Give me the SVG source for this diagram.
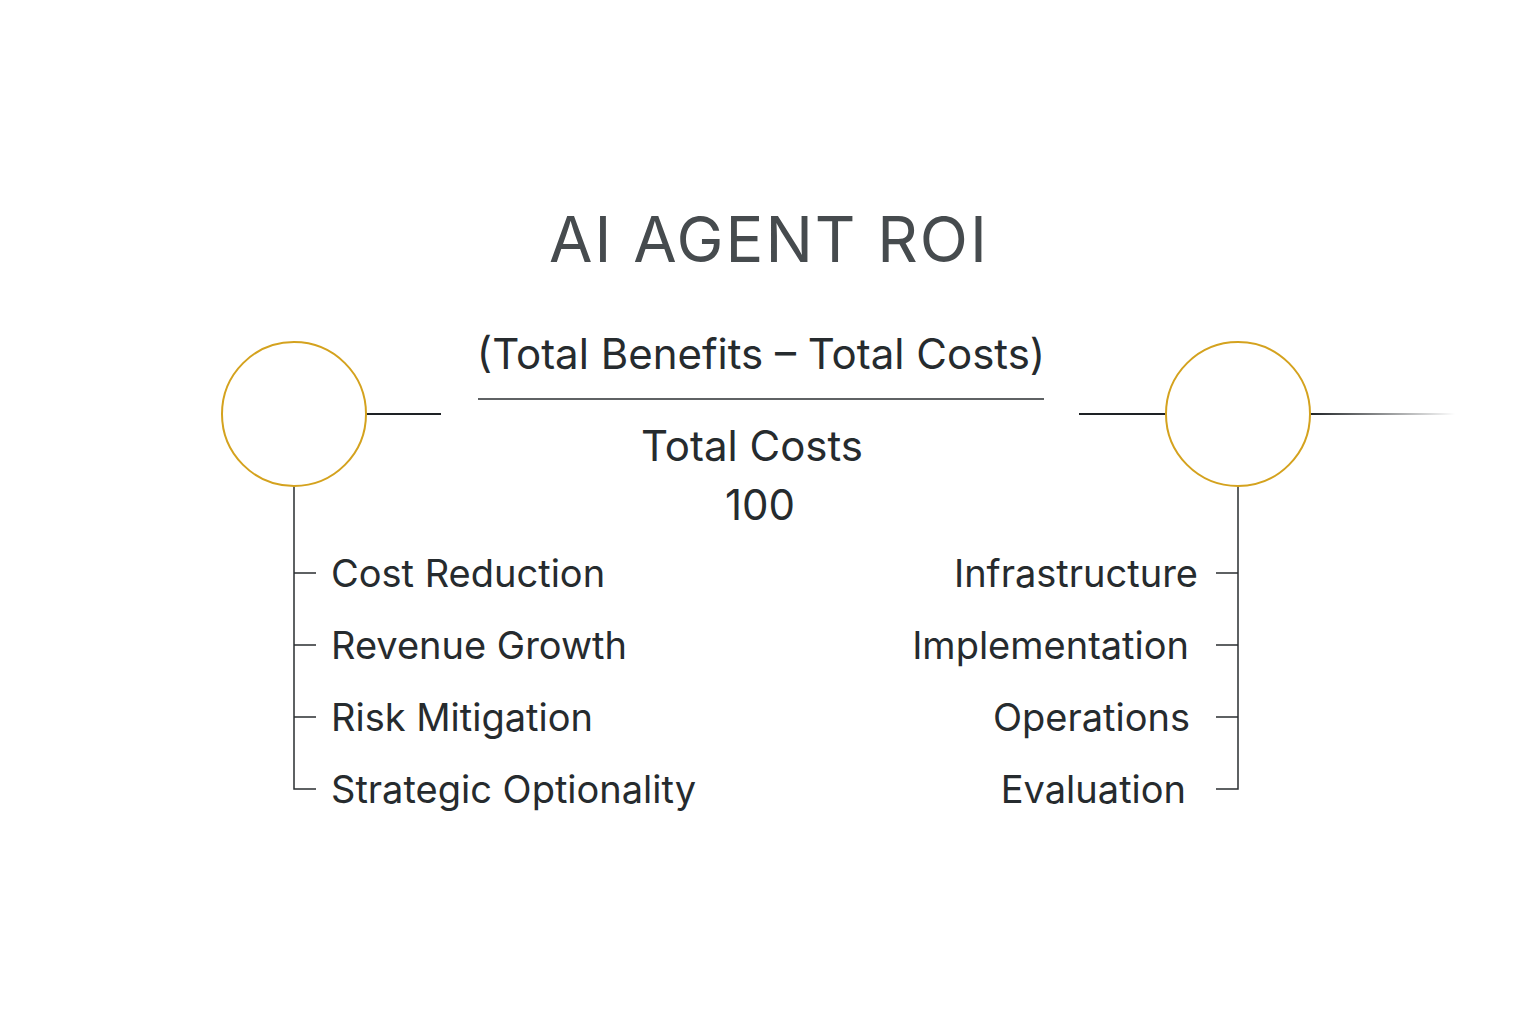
<svg xmlns="http://www.w3.org/2000/svg" width="1536" height="1024" viewBox="0 0 1536 1024">
<style>
.t{font-family:Inter,"Noto Sans","Liberation Sans",sans-serif;fill:#262b2e}
.lbl{font-size:38px}
.ln{stroke:#1e2225;stroke-width:2;fill:none}
.thin{stroke:#2a2e31;stroke-width:1.5;fill:none}
.ring{fill:#fff;stroke:#d4a21e;stroke-width:2}
</style>
<defs>
<linearGradient id="fade" x1="1310" y1="0" x2="1455" y2="0" gradientUnits="userSpaceOnUse">
<stop offset="0" stop-color="#1e2225"/>
<stop offset="1" stop-color="#1e2225" stop-opacity="0"/>
</linearGradient>
</defs>
<rect width="1536" height="1024" fill="#fff"/>
<text id="title" class="t" x="769" y="262" text-anchor="middle" font-size="63" letter-spacing="2" style="fill:#464b4e">AI AGENT ROI</text>
<g id="formula">
<text class="t" x="761" y="369" text-anchor="middle" font-size="42">(Total Benefits – Total Costs)</text>
<line class="thin" x1="478" y1="399" x2="1044" y2="399"/>
<text class="t" x="752" y="461" text-anchor="middle" font-size="42">Total Costs</text>
<text class="t" x="760" y="520" text-anchor="middle" font-size="42">100</text>
</g>
<g id="connectors">
<line class="ln" x1="366" y1="414" x2="441" y2="414"/>
<line class="ln" x1="1079" y1="414" x2="1166" y2="414"/>
<line x1="1310" y1="414" x2="1455" y2="414" stroke="url(#fade)" stroke-width="2"/>
<path class="thin" d="M294 486V789H316M294 573H316M294 645H316M294 717H316"/>
<path class="thin" d="M1238 486V789H1216M1238 573H1216M1238 645H1216M1238 717H1216"/>
</g>
<g id="benefits">
<circle class="ring" cx="294" cy="414" r="72"/>
<text class="t lbl" x="331" y="587">Cost Reduction</text>
<text class="t lbl" x="331" y="659">Revenue Growth</text>
<text class="t lbl" x="331" y="731">Risk Mitigation</text>
<text class="t lbl" x="331" y="803">Strategic Optionality</text>
</g>
<g id="costs">
<circle class="ring" cx="1238" cy="414" r="72"/>
<text class="t lbl" x="1198" y="587" text-anchor="end">Infrastructure</text>
<text class="t lbl" x="1189" y="659" text-anchor="end">Implementation</text>
<text class="t lbl" x="1190" y="731" text-anchor="end">Operations</text>
<text class="t lbl" x="1186" y="803" text-anchor="end">Evaluation</text>
</g>
</svg>
